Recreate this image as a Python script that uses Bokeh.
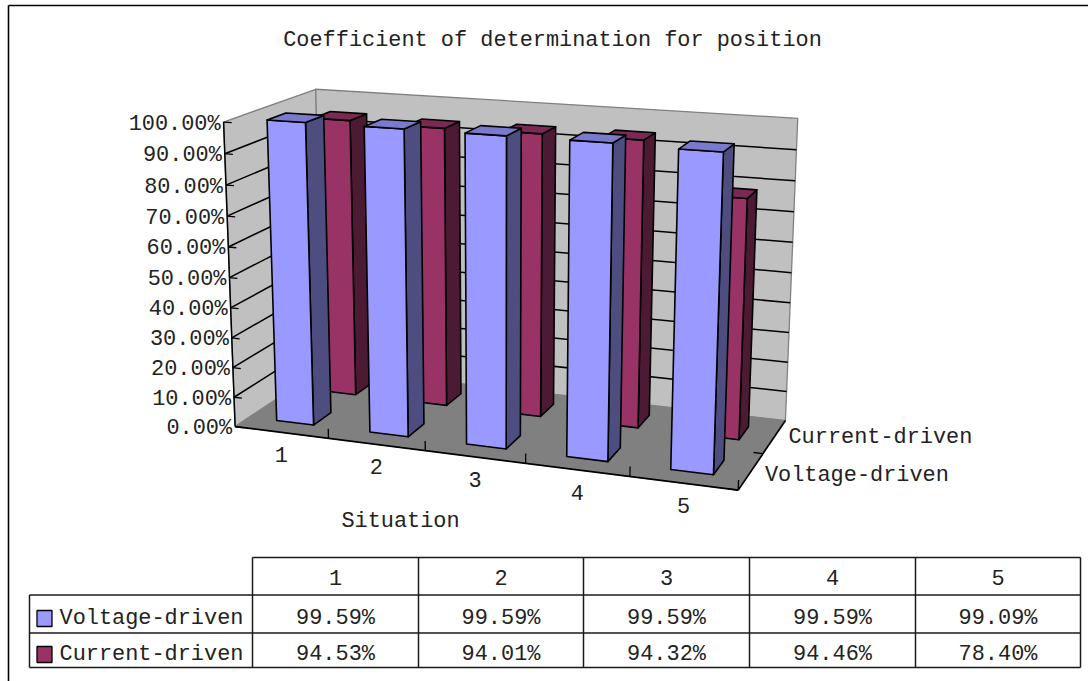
import numpy as np
from bokeh.core.properties import value
from bokeh.embed import file_html
from bokeh.models import Range1d
from bokeh.plotting import figure
from bokeh.resources import INLINE

# Series, categories and axis labels
categories = ["1", "2", "3", "4", "5"]
series_names = ["Voltage-driven", "Current-driven"]
voltage_driven = [99.59, 99.59, 99.59, 99.59, 99.09]
current_driven = [94.53, 94.01, 94.32, 94.46, 78.40]
value_ticks = [0, 10, 20, 30, 40, 50, 60, 70, 80, 90, 100]
title_text = "Coefficient of determination for position"
category_title = "Situation"

# Palette: front, side and top face of each series
blue_faces = ("#9999FF", "#4D4D80", "#7A7ACC")
red_faces = ("#993366", "#4D1A33", "#7A2952")
WALL = "#C0C0C0"
FLOOR = "#808080"
FONT = value("Liberation Mono")
FONT_SIZE = "21.9px"

# Camera calibration: (category, depth, value) -> page position
camera_points = [
    (0, 0, 0, 235, 426), (5, 0, 0, 737, 491), (5, 2, 0, 785, 418), (0, 2, 0, 321, 370),
    (0, 0, 100, 223, 122), (0, 2, 100, 316, 88), (5, 2, 100, 797, 119),
    (1, 0, 0, 327, 438), (2, 0, 0, 424, 451), (4, 0, 0, 629, 476),
    (.3, .3, 99.59, 267, 119), (.7, .3, 99.59, 305, 122), (.3, .3, 0, 277, 419),
    (.7, .3, 0, 314, 424), (.7, .7, 0, 331, 411), (.7, .7, 99.59, 322, 115),
    (4.3, .3, 99.09, 678, 148), (4.7, .3, 99.09, 723, 152), (4.3, .3, 0, 670, 469),
    (4.7, .3, 0, 713, 474), (4.7, .7, 0, 725, 460), (4.7, .7, 99.09, 734, 143),
]


def fit_camera(points):
    rows, rhs = [], []
    for u, v, w, x, y in points:
        w = w / 100
        rows.append([u, v, w, 1, 0, 0, 0, 0, -x * u, -x * v, -x * w])
        rhs.append(x)
        rows.append([0, 0, 0, 0, u, v, w, 1, -y * u, -y * v, -y * w])
        rhs.append(y)
    m = np.linalg.lstsq(np.array(rows, float), np.array(rhs, float), rcond=None)[0]
    return np.append(m, 1.0).reshape(3, 4)


CAMERA = fit_camera(camera_points)


def project(u, v, w):
    q = CAMERA @ np.array([u, v, w / 100, 1.0])
    return q[0] / q[2], q[1] / q[2]


def polygon(corners):
    pts = [project(*c) for c in corners]
    return [a for a, _ in pts], [b for _, b in pts]


p = figure(width=1088, height=681, output_backend="svg", toolbar_location=None,
           x_range=Range1d(0, 1088), y_range=Range1d(681, 0),
           x_axis_type=None, y_axis_type=None, min_border=0, outline_line_color=None)
p.background_fill_color = "white"
p.border_fill_color = "white"


def line3d(a, b, color="black", width=1.5):
    xs, ys = polygon([a, b])
    p.line(xs, ys, line_color=color, line_width=width)


def face(corners, fill, edge="black", width=1.6):
    xs, ys = polygon(corners)
    p.patch(xs, ys, fill_color=fill, line_color=edge, line_width=width, line_join="round")


def label(x, y, text, align="center"):
    p.text([x], [y], text=[text], text_font=FONT, text_font_size=FONT_SIZE, text_color="#222222",
           text_align=align, text_baseline="middle")


# Chart frame
p.line([8, 8], [681, 5], line_color="black", line_width=1.6)
p.line([8, 1088], [5, 5], line_color="black", line_width=1.6)

# Walls and floor
U, D, H = 5, 2, 100
face([(0, 0, 0), (0, D, 0), (0, D, H), (0, 0, H)], WALL, FLOOR, 1.3)
face([(0, D, 0), (U, D, 0), (U, D, H), (0, D, H)], WALL, FLOOR, 1.3)
face([(0, 0, 0), (U, 0, 0), (U, D, 0), (0, D, 0)], FLOOR, FLOOR, 1.0)

# Gridlines along both walls, with ticks on the value axis
for t in value_ticks[1:-1]:
    line3d((0, 0, t), (0, D, t))
    line3d((0, D, t), (U, D, t))
for t in value_ticks:
    line3d((0, 0, t), (0.085, 0, t), width=1.3)
    x, y = project(0, 0, t)
    label(x - 3, y + 2, f"{t:.2f}%", "right")

# Edges of the floor and the value axis
line3d((0, 0, 0), (0, 0, H))
line3d((0, 0, 0), (U, 0, 0), width=1.7)
line3d((U, 0, 0), (U, D, 0), width=1.7)
for i in range(1, U + 1):
    line3d((i, 0, 0), (i, 0, 3.2), width=1.3)
for d in range(0, D):
    line3d((U, d, 0), (U - 0.09, d, 0), width=1.3)


def bar(i, row, val, faces):
    front, side, top = faces
    u0, u1 = i + 0.3, i + 0.7
    v0, v1 = row + 0.3, row + 0.7
    face([(u1, v0, 0), (u1, v1, 0), (u1, v1, val), (u1, v0, val)], side)
    face([(u0, v0, 0), (u1, v0, 0), (u1, v0, val), (u0, v0, val)], front)
    face([(u0, v0, val), (u1, v0, val), (u1, v1, val), (u0, v1, val)], top)


# The rear row goes down first so the nearer bars cover it
for i, val in enumerate(current_driven):
    bar(i, 1, val, red_faces)
for i, val in enumerate(voltage_driven):
    bar(i, 0, val, blue_faces)

# Category and series labels
for i, name in enumerate(categories):
    x, y = project(i + 0.5, 0, 0)
    label(x, y + 22.5, name)
for row, name in enumerate(series_names):
    x, y = project(U, row + 0.5, 0)
    label(x + 14, y + 4 - 3 * row, name, "left")

label(552, 40, title_text)
label(400, 521, category_title)

# Data table below the plot
col_edges = [252, 418, 583, 749, 915, 1080]
row_edges = [557, 594.5, 632.5, 667]
TABLE_LINE = "#1A1A1A"
for y in row_edges:
    p.line([252 if y == row_edges[0] else 29, col_edges[-1]], [y, y], line_color=TABLE_LINE, line_width=1.5)
for x in col_edges:
    p.line([x, x], [row_edges[0], row_edges[-1]], line_color=TABLE_LINE, line_width=1.5)
p.line([29, 29], [row_edges[1], row_edges[-1]], line_color=TABLE_LINE, line_width=1.5)

centers = [(a + b) / 2 for a, b in zip(col_edges[:-1], col_edges[1:])]
for cx, name in zip(centers, categories):
    label(cx, 577, name)
table_rows = [(voltage_driven, blue_faces[0], series_names[0], 618),
              (current_driven, red_faces[0], series_names[1], 654)]
for vals, color, name, y in table_rows:
    p.quad(left=[36.5], right=[51.5], top=[y - 8], bottom=[y + 8], fill_color=color,
           line_color="black", line_width=1.3)
    label(59, y, name, "left")
    for cx, val in zip(centers, vals):
        label(cx, y, f"{val:.2f}%")

open("out.html", "w").write(file_html(p, INLINE))
